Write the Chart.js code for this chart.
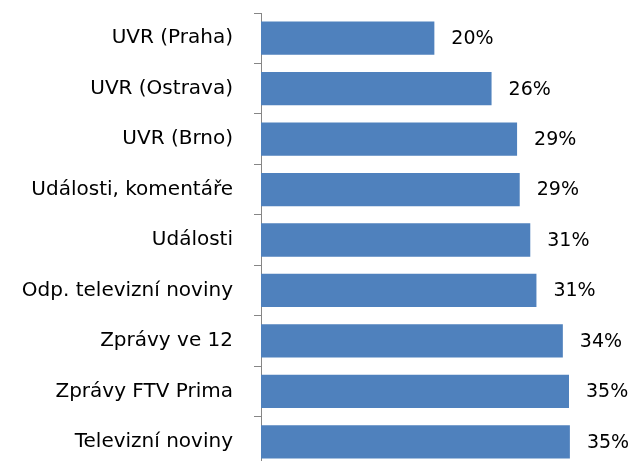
<!DOCTYPE html>
<html>
<head>
<meta charset="utf-8">
<script src="https://cdn.jsdelivr.net/npm/chart.js@4"></script>
<style>
    html, body { margin: 0; padding: 0; background: #fff; overflow: hidden; }
    #wrap { position: relative; width: 634px; height: 467px; }
</style>
</head>
<body>
<div id="wrap"><canvas id="chart"></canvas></div>
<script>
const categories = [
    'UVR (Praha)',
    'UVR (Ostrava)',
    'UVR (Brno)',
    'Události, komentáře',
    'Události',
    'Odp. televizní noviny',
    'Zprávy ve 12',
    'Zprávy FTV Prima',
    'Televizní noviny'
];
const values = [19.7, 26.2, 29.1, 29.4, 30.6, 31.3, 34.3, 35.0, 35.1];
const valueLabels = ['20%', '26%', '29%', '29%', '31%', '31%', '34%', '35%', '35%'];

const FONT = '"DejaVu Sans", sans-serif';

// popisky hodnot vpravo od sloupců
const valueLabelPlugin = {
    id: 'valueLabels',
    afterDatasetsDraw(chart) {
        const ctx = chart.ctx;
        const meta = chart.getDatasetMeta(0);
        ctx.save();
        ctx.font = '19px ' + FONT;
        ctx.fillStyle = '#000';
        ctx.textAlign = 'left';
        ctx.textBaseline = 'middle';
        meta.data.forEach((bar, i) => {
            ctx.fillText(valueLabels[i], bar.x + 17, bar.y + 1);
        });
        ctx.restore();
    }
};

new Chart(document.getElementById('chart'), {
    type: 'bar',
    data: {
        labels: categories,
        datasets: [{
            data: values,
            backgroundColor: '#4F81BD',
            borderWidth: 0,
            categoryPercentage: 1,
            barPercentage: 0.66
        }]
    },
    options: {
        indexAxis: 'y',
        responsive: true,
        maintainAspectRatio: false,
        animation: false,
        layout: { padding: { top: 13, right: 21, left: 0, bottom: 0 } },
        plugins: {
            legend: { display: false },
            tooltip: { enabled: false }
        },
        scales: {
            x: {
                display: false,
                min: 0,
                max: 40
            },
            y: {
                afterFit(scale) {
                    scale.width = 261;
                    scale.paddingTop = 0;
                    scale.paddingBottom = 0;
                },
                border: { display: true, color: '#868686', width: 1 },
                grid: {
                    offset: true,
                    drawOnChartArea: false,
                    drawTicks: true,
                    tickLength: 7,
                    color: '#868686'
                },
                ticks: {
                    color: '#000',
                    padding: 21,
                    font: { family: FONT, size: 20 }
                }
            }
        }
    },
    plugins: [valueLabelPlugin]
});
</script>
</body>
</html>
